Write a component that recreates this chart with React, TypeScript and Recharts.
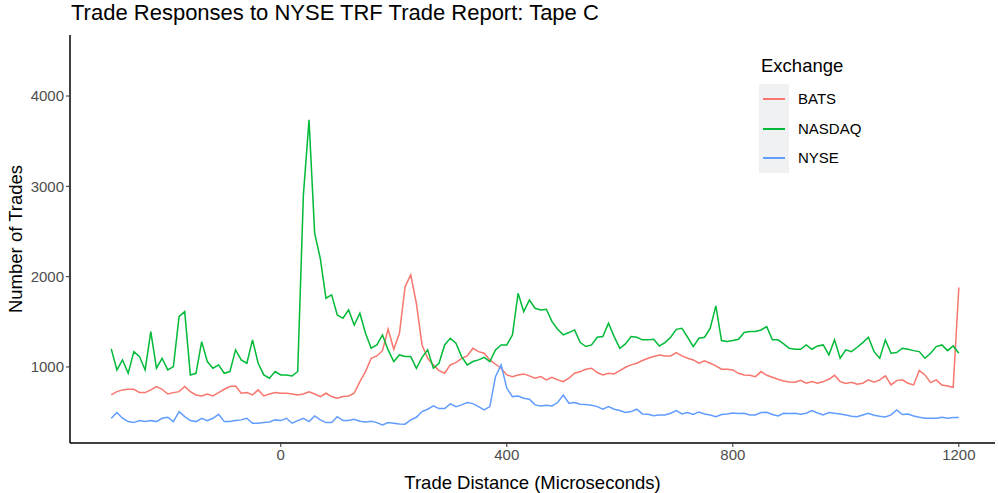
import { LineChart, Line, XAxis, YAxis } from 'recharts';

const FONT = '"Liberation Sans", Arial, Helvetica, sans-serif';

// trade distance in microseconds, one bin every 10 µs
const distance = Array.from({ length: 151 }, (_, i) => -300 + i * 10);

const bats = [
  690, 727, 746, 753, 753, 716, 716, 746, 783, 753,
  701, 716, 727, 783, 727, 690, 679, 701, 679, 716,
  753, 783, 790, 709, 716, 690, 746, 679, 701, 716,
  709, 709, 701, 690, 701, 724, 701, 672, 709, 672,
  654, 672, 679, 709, 838, 949, 1096, 1122, 1180, 1420,
  1196, 1373, 1890, 2019, 1705, 1244, 1096, 1023, 960, 930,
  1023, 1048, 1096, 1122, 1207, 1170, 1152, 1078, 1030, 986,
  912, 893, 912, 923, 901, 875, 893, 857, 886, 857,
  838, 875, 930, 949, 975, 986, 938, 912, 930, 923,
  960, 997, 1023, 1041, 1071, 1096, 1115, 1133, 1122, 1122,
  1159, 1122, 1096, 1078, 1041, 1067, 1041, 1012, 975, 975,
  967, 930, 912, 908, 893, 949, 908, 886, 864, 845,
  834, 831, 853, 820, 838, 820, 838, 864, 908, 838,
  816, 831, 809, 820, 857, 831, 857, 901, 801, 849,
  857, 820, 801, 960, 912, 827, 857, 801, 790, 775,
  1880,
];

const nasdaq = [
  1200, 967, 1078, 930, 1170, 1115, 967, 1392, 986, 1096,
  967, 1004, 1558, 1613, 912, 930, 1281, 1060, 986, 1023,
  930, 949, 1189, 1078, 1041, 1300, 1041, 912, 875, 949,
  912, 912, 900, 950, 2900, 3736, 2480, 2200, 1761, 1798,
  1576, 1539, 1632, 1465, 1595, 1373, 1207, 1244, 1355, 1189,
  1060, 1133, 1115, 1115, 986, 1107, 1189, 986, 1041, 1244,
  1318, 1262, 1115, 1023, 1060, 1078, 1107, 1060, 1189, 1244,
  1244, 1355, 1816, 1613, 1742, 1650, 1632, 1639, 1502, 1417,
  1355, 1381, 1410, 1270, 1226, 1244, 1329, 1336, 1484, 1336,
  1207, 1255, 1336, 1329, 1300, 1300, 1307, 1233, 1270, 1329,
  1417, 1429, 1329, 1226, 1318, 1329, 1429, 1676, 1292, 1281,
  1292, 1307, 1381, 1392, 1392, 1410, 1447, 1300, 1300, 1255,
  1207, 1196, 1196, 1244, 1196, 1233, 1244, 1133, 1300, 1096,
  1189, 1170, 1218, 1270, 1329, 1170, 1096, 1300, 1152, 1159,
  1207, 1196, 1181, 1170, 1096, 1152, 1226, 1244, 1181, 1233,
  1152,
];

const nyse = [
  432, 495, 432, 395, 384, 406, 395, 406, 395, 432,
  443, 395, 506, 450, 406, 395, 432, 406, 432, 476,
  395, 395, 406, 414, 432, 377, 377, 384, 391, 414,
  406, 432, 377, 406, 432, 395, 458, 414, 384, 384,
  450, 406, 406, 421, 399, 391, 399, 384, 358, 384,
  377, 369, 366, 414, 443, 506, 532, 569, 539, 539,
  591, 561, 580, 606, 594, 561, 524, 561, 893, 1023,
  764, 672, 679, 653, 642, 580, 569, 576, 569, 606,
  690, 598, 606, 587, 584, 576, 561, 532, 561, 532,
  517, 495, 506, 532, 480, 476, 461, 469, 469, 487,
  517, 480, 495, 473, 502, 480, 469, 450, 473, 480,
  491, 484, 487, 469, 469, 495, 498, 473, 458, 487,
  484, 487, 476, 487, 517, 491, 469, 495, 487, 480,
  469, 454, 450, 469, 487, 465, 454, 447, 469, 524,
  473, 480, 458, 443, 432, 432, 432, 443, 432, 439,
  440,
];

const xTicks = [0, 400, 800, 1200];
const yTicks = [1000, 2000, 3000, 4000];

const series = [
  { key: 'BATS', color: '#F8766D' },
  { key: 'NASDAQ', color: '#00BA38' },
  { key: 'NYSE', color: '#619CFF' },
];

const data = distance.map((x, i) => ({
  x,
  BATS: bats[i],
  NASDAQ: nasdaq[i],
  NYSE: nyse[i],
}));

const tickStyle = { fill: '#4D4D4D', fontSize: 15, fontFamily: FONT };
const titleStyle = { fill: '#000', fontSize: 18.5, fontFamily: FONT };

function ExchangeLegend() {
  return (
    <div style={{ position: 'absolute', left: 755, top: 50, width: 130, height: 130, fontFamily: FONT }}>
      <div style={{ position: 'absolute', left: 6, top: 6, fontSize: 18.5, lineHeight: '20px', color: '#000' }}>
        Exchange
      </div>
      <div style={{ position: 'absolute', left: 4, top: 34, width: 30, height: 89, background: '#F0F1F3' }} />
      {series.map((s, i) => (
        <div key={s.key}>
          <div
            style={{
              position: 'absolute',
              left: 8,
              top: [48, 78, 107][i],
              width: 22,
              height: 2,
              background: s.color,
            }}
          />
          <div
            style={{
              position: 'absolute',
              left: 43,
              top: 40 + i * 29.5,
              fontSize: 15,
              lineHeight: '18px',
              color: '#000',
            }}
          >
            {s.key}
          </div>
        </div>
      ))}
    </div>
  );
}

export default function App() {
  return (
    <div style={{ position: 'absolute', left: 0, top: 0, width: 998, height: 493, background: '#fff', fontFamily: FONT }}>
      <div style={{ position: 'absolute', left: 71, top: 0, fontSize: 22, lineHeight: '26px', color: '#000' }}>
        Trade Responses to NYSE TRF Trade Report: Tape C
      </div>
      <LineChart width={998} height={493} data={data} margin={{ top: 35, right: 3, bottom: 0, left: 10 }}>
        <XAxis
          dataKey="x"
          type="number"
          domain={[-373, 1264]}
          allowDataOverflow
          ticks={xTicks}
          tick={tickStyle}
          tickSize={4}
          tickLine={{ stroke: '#333' }}
          axisLine={{ stroke: '#000', strokeWidth: 1.5 }}
          height={50}
          label={{ value: 'Trade Distance (Microseconds)', position: 'insideBottom', offset: 4, style: titleStyle }}
        />
        <YAxis
          type="number"
          domain={[158, 4676]}
          allowDataOverflow
          ticks={yTicks}
          tick={tickStyle}
          tickSize={4}
          tickLine={{ stroke: '#333' }}
          axisLine={{ stroke: '#000', strokeWidth: 1.5 }}
          width={60}
          label={{
            value: 'Number of Trades',
            angle: -90,
            position: 'insideLeft',
            offset: 5,
            style: { ...titleStyle, textAnchor: 'middle' },
          }}
        />
        {series.map((s) => (
          <Line
            key={s.key}
            dataKey={s.key}
            stroke={s.color}
            strokeWidth={1.5}
            dot={false}
            activeDot={false}
            isAnimationActive={false}
            type="linear"
          />
        ))}
      </LineChart>
      <ExchangeLegend />
    </div>
  );
}
